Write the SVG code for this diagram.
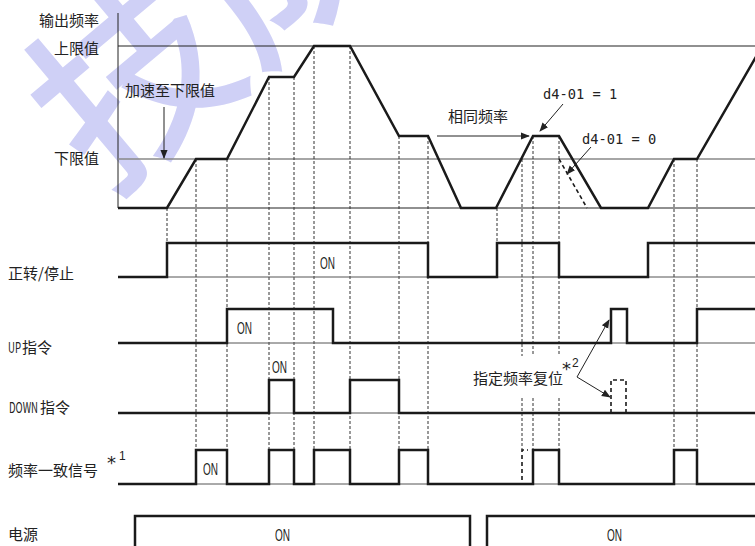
<svg xmlns="http://www.w3.org/2000/svg" width="755" height="546" viewBox="0 0 755 546">
<defs>
<marker id="ah" viewBox="0 0 10 10" refX="9" refY="5" markerWidth="9" markerHeight="9" markerUnits="userSpaceOnUse" orient="auto">
<path d="M0,1 L10,5 L0,9 z" fill="#222"/>
</marker>
<style>
.lbl{font-family:"Noto Sans CJK SC","Noto Sans",sans-serif;font-size:15px;fill:#222}
.on{font-family:"Liberation Sans",Arial,sans-serif;font-size:16px;fill:#222}
.mono{font-family:"DejaVu Sans Mono","Liberation Mono",monospace;font-size:13.7px;fill:#222}
.ast{font-family:"DejaVu Sans",sans-serif;font-size:18px;fill:#222}
.sup{font-family:"Liberation Sans",Arial,sans-serif;font-size:12px;fill:#222}
.sig{fill:none;stroke:#1a1a1a;stroke-width:2.5;stroke-linejoin:miter}
.base{fill:none;stroke:#555;stroke-width:1}
.dot{fill:none;stroke:#333;stroke-width:1;stroke-dasharray:3 2}
.dash{fill:none;stroke:#1a1a1a;stroke-width:1.6;stroke-dasharray:4 3}
.arr{fill:none;stroke:#222;stroke-width:1;marker-end:url(#ah)}
.wm{font-family:"Noto Sans CJK SC",sans-serif;font-weight:500;fill:#cfd0f6}
</style>
</defs>

<g id="watermark">
<text class="wm" x="0" y="0" font-size="195" dominant-baseline="central" transform="translate(50,132) rotate(-40)">技成</text>
</g>

<g id="freq-axes">
<line x1="118" y1="13" x2="118" y2="208" stroke="#222" stroke-width="1"/>
<line x1="118" y1="46" x2="755" y2="46" stroke="#222" stroke-width="1.2"/>
<line x1="118" y1="159" x2="755" y2="159" stroke="#888" stroke-width="1.6"/>
<line x1="118" y1="208" x2="755" y2="208" stroke="#222" stroke-width="1.2"/>
<text class="lbl" x="99" y="26" text-anchor="end">输出频率</text>
<text class="lbl" x="99" y="54" text-anchor="end">上限值</text>
<text class="lbl" x="99" y="164" text-anchor="end">下限值</text>
</g>

<g id="dotted-lines">
<path class="dot" d="M167,208V243 M196,159V450 M227,159V450 M269,77V450 M294,77V450 M314,46V450 M350,46V450 M399,136V450 M428,136V450 M497,208V243 M522,159V356 M522,398V450 M533,136V356 M533,398V450 M559,136V356 M559,398V450 M674,159V450 M697,159V450"/>
</g>

<g id="freq-curve">
<path class="sig" d="M118,208 H167 L196,159 H227 L269,77 H294 L314,46 H350 L399,136 H428 L461,208 H496 L533,136 H559 L601,208 H648 L674,159 H697 L757,55"/>
<path class="dash" d="M559,159 L587,208"/>
</g>

<g id="annotations">
<text class="lbl" x="125" y="95.5">加速至下限值</text>
<line class="arr" x1="164" y1="107" x2="164" y2="158"/>
<text class="lbl" x="448" y="122">相同频率</text>
<line class="arr" x1="437" y1="136" x2="529" y2="136"/>
<text class="mono" x="543" y="99">d4-01 = 1</text>
<line class="arr" x1="563" y1="104" x2="540" y2="131"/>
<text class="mono" x="582" y="144">d4-01 = 0</text>
<line class="arr" x1="591" y1="147" x2="567" y2="174"/>
<text class="lbl" x="473" y="383.5">指定频率复位</text>
<text class="ast" x="562" y="375">*</text>
<text class="sup" x="572" y="367">2</text>
<line class="arr" x1="577" y1="377" x2="609" y2="320"/>
<line class="arr" x1="577" y1="377" x2="610" y2="397"/>
</g>

<g id="run-stop">
<text class="lbl" x="8" y="278.5">正转/停止</text>
<line class="base" x1="118" y1="277" x2="755" y2="277"/>
<path class="sig" d="M118,277 H167 V243 H428 V277 H497 V243 H559 V277 H648 V243 H757"/>
<text class="on" x="320" y="268.5" textLength="15" lengthAdjust="spacingAndGlyphs">ON</text>
</g>

<g id="up-cmd">
<text class="lbl" transform="translate(8,353) scale(0.64,1)">UP</text>
<text class="lbl" x="22" y="353">指令</text>
<line class="base" x1="118" y1="343" x2="755" y2="343"/>
<path class="sig" d="M118,343 H227 V309 H333 V343 H611 V309 H627 V343 H697 V309 H757"/>
<text class="on" x="237" y="333.5" textLength="15" lengthAdjust="spacingAndGlyphs">ON</text>
</g>

<g id="down-cmd">
<text class="lbl" transform="translate(9,412.5) scale(0.64,1)">DOWN</text>
<text class="lbl" x="40" y="412.5">指令</text>
<line class="base" x1="118" y1="413" x2="755" y2="413"/>
<path class="sig" d="M118,413 H269 V380 H294 V413 H350 V380 H399 V413 H757"/>
<path class="dash" d="M611,413 V380 H626 V413"/>
<text class="on" x="272" y="372.5" textLength="15" lengthAdjust="spacingAndGlyphs">ON</text>
</g>

<g id="freq-agree">
<text class="lbl" x="8" y="475.5">频率一致信号</text>
<text class="ast" x="107" y="469">*</text>
<text class="sup" x="119" y="460">1</text>
<line class="base" x1="118" y1="484" x2="755" y2="484"/>
<path class="sig" d="M118,484 H196 V450 H227 V484 H269 V450 H294 V484 H314 V450 H350 V484 H399 V450 H428 V484 H533 V450 H559 V484 H674 V450 H697 V484 H757"/>
<path class="dash" d="M522,480 V450 H528"/>
<text class="on" x="203" y="474.5" textLength="15" lengthAdjust="spacingAndGlyphs">ON</text>
</g>

<g id="power">
<text class="lbl" x="8" y="540">电源</text>
<path class="sig" d="M135,548 V516 H470 V548 M487,548 V516 H757"/>
<text class="on" x="275" y="540.5" textLength="15" lengthAdjust="spacingAndGlyphs">ON</text>
<text class="on" x="607" y="540.5" textLength="15" lengthAdjust="spacingAndGlyphs">ON</text>
</g>
</svg>
